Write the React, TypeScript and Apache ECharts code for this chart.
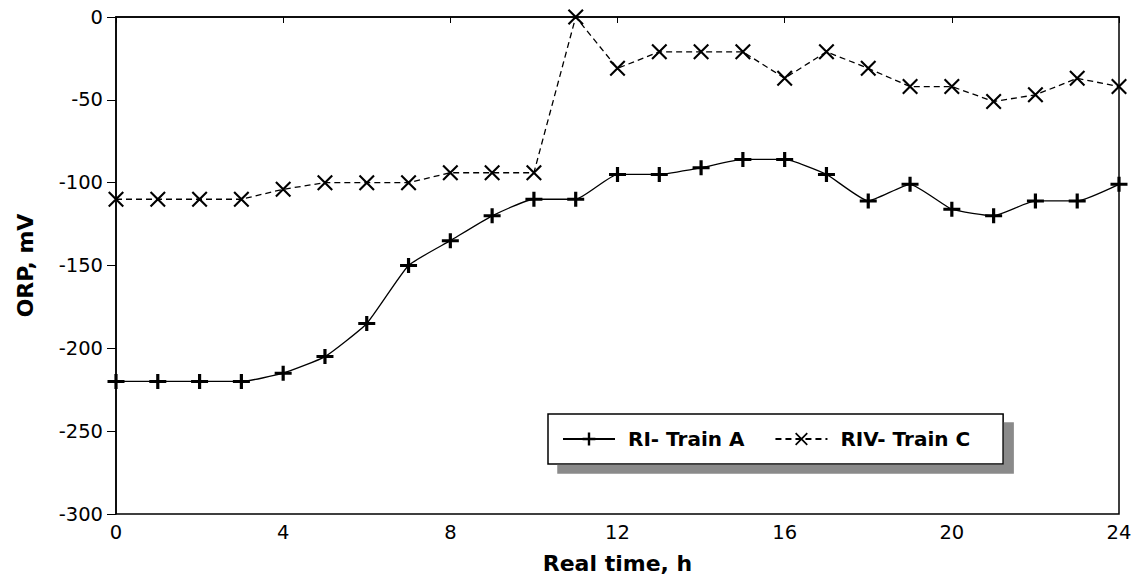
import React, { useEffect, useRef } from "react";
import * as echarts from "echarts";

const hours = [0, 1, 2, 3, 4, 5, 6, 7, 8, 9, 10, 11, 12, 13, 14, 15, 16, 17, 18, 19, 20, 21, 22, 23, 24];
const trainA = [-220, -220, -220, -220, -215, -205, -185, -150, -135, -120, -110, -110, -95, -95, -91, -86, -86, -95, -111, -101, -116, -120, -111, -111, -101];
const trainC = [-110, -110, -110, -110, -104, -100, -100, -100, -94, -94, -94, 0, -31, -21, -21, -21, -37, -21, -31, -42, -42, -51, -47, -37, -42];
const seriesNames = ["RI- Train A", "RIV- Train C"];

const plusSymbol = "path://M0,6 L16,6 L16,9 L0,9 Z M6.5,0 L9.5,0 L9.5,15 L6.5,15 Z";
const crossSymbol = "path://M0,1.5 L1.5,0 L16,14.5 L14.5,16 Z M14.5,0 L16,1.5 L1.5,16 L0,14.5 Z";

export default function App() {
  const ref = useRef<HTMLDivElement>(null);
  useEffect(() => {
    if (!ref.current) return;
    const chart = echarts.init(ref.current, undefined, { renderer: "svg" });
    const font = "DejaVu Sans, Verdana, sans-serif";
    chart.setOption({
      animation: false,
      backgroundColor: "#ffffff",
      grid: { left: 116, right: 19, top: 17, bottom: 73, show: true, borderColor: "#000", borderWidth: 1.5 },
      legend: {
        left: 548,
        top: 414,
        itemWidth: 52,
        itemHeight: 16,
        itemGap: 30,
        padding: [15, 33, 15, 14],
        backgroundColor: "#fff",
        borderColor: "#000",
        borderWidth: 1.5,
        borderRadius: 0,
        shadowColor: "#8a8a8a",
        shadowBlur: 0,
        shadowOffsetX: 10,
        shadowOffsetY: 9,
        textStyle: { fontFamily: font, fontWeight: "bold", fontSize: 20, color: "#000", padding: [0, 0, 0, 8] },
        data: seriesNames,
      },
      xAxis: {
        type: "value",
        min: 0,
        max: 24,
        interval: 4,
        name: "Real time, h",
        nameLocation: "middle",
        nameGap: 38,
        nameTextStyle: { fontFamily: font, fontWeight: "bold", fontSize: 22, color: "#000" },
        axisLine: { lineStyle: { color: "#000", width: 1.5 } },
        axisTick: { show: true, length: 6, lineStyle: { color: "#000" } },
        axisLabel: { fontFamily: font, fontSize: 19.5, color: "#000", margin: 8 },
        splitLine: { show: false },
      },
      yAxis: {
        type: "value",
        min: -300,
        max: 0,
        interval: 50,
        name: "ORP, mV",
        nameLocation: "middle",
        nameGap: 80,
        nameRotate: 90,
        nameTextStyle: { fontFamily: font, fontWeight: "bold", fontSize: 22, color: "#000" },
        axisLine: { lineStyle: { color: "#000", width: 1.5 } },
        axisTick: { show: true, length: 9, lineStyle: { color: "#000" } },
        axisLabel: { fontFamily: font, fontSize: 19.5, color: "#000", margin: 13 },
        splitLine: { show: false },
      },
      series: [
        {
          name: seriesNames[0],
          type: "line",
          data: hours.map((h, i) => [h, trainA[i]]),
          symbol: plusSymbol,
          symbolSize: [17, 15],
          itemStyle: { color: "#000" },
          lineStyle: { color: "#000", width: 1.3, type: "solid" },
          smooth: 0.15,
        },
        {
          name: seriesNames[1],
          type: "line",
          data: hours.map((h, i) => [h, trainC[i]]),
          symbol: crossSymbol,
          symbolSize: 16,
          itemStyle: { color: "#000" },
          lineStyle: { color: "#000", width: 1.3, type: [6, 4] },
        },
      ],
    });
    return () => chart.dispose();
  }, []);
  return <div ref={ref} style={{ width: 1138, height: 587, position: "absolute", left: 0, top: 0 }} />;
}
